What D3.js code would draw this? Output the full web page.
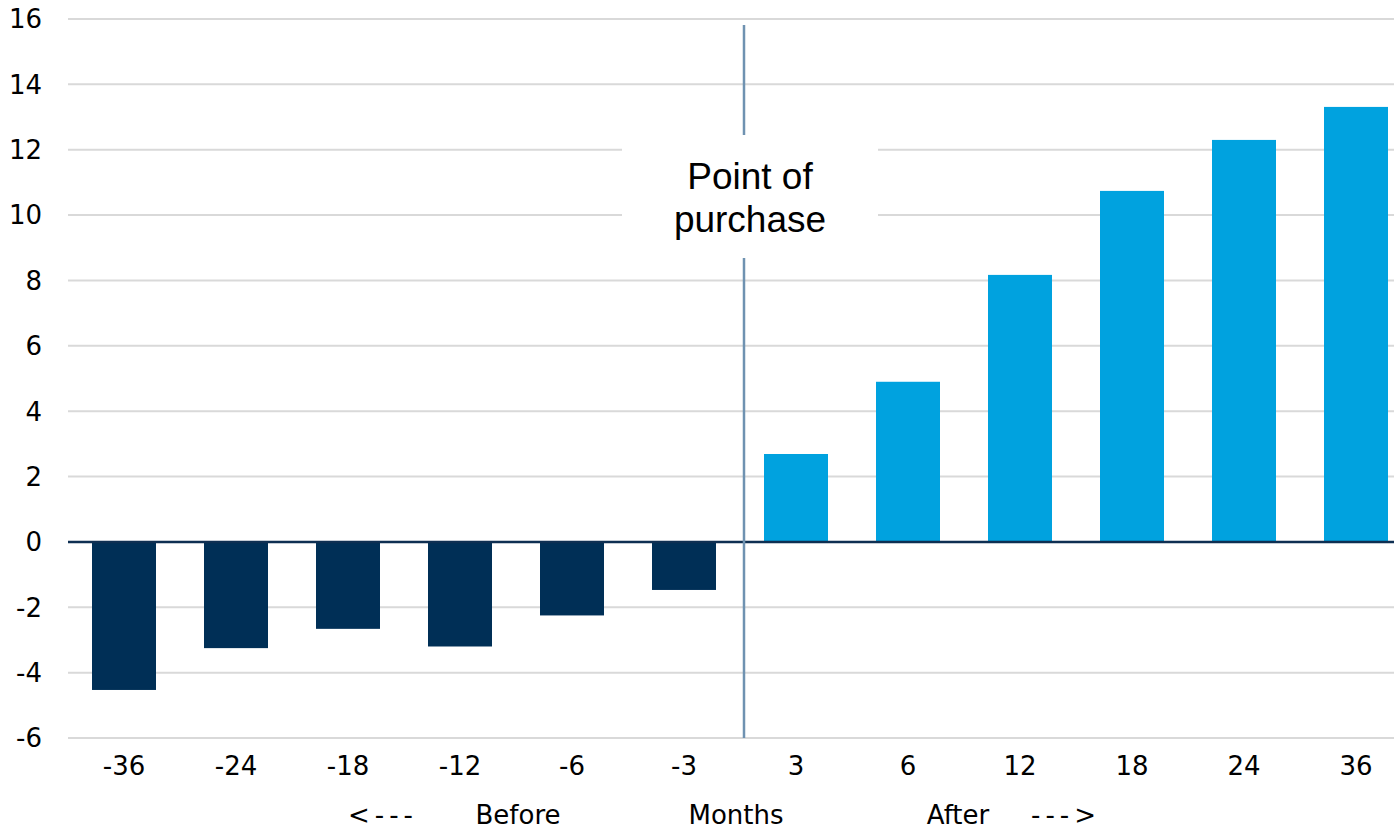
<!DOCTYPE html>
<meta charset="utf-8">

<head>
    <style>
        body {
            margin: 0;
            background: #fff;
        }

        .axis text {
            font-family: "DejaVu Sans", Verdana, sans-serif;
            font-size: 26px;
            fill: #000;
        }

        .grid line {
            stroke: #d9d9d9;
            stroke-width: 2px;
        }

        .note {
            font-family: "Liberation Sans", Arial, sans-serif;
            font-size: 37px;
            fill: #000;
        }

        .bottom-label {
            font-family: "DejaVu Sans", Verdana, sans-serif;
            font-size: 26px;
            fill: #000;
        }

        .arrow {
            letter-spacing: 5px;
        }
    </style>
</head>

<body>

<script src="https://d3js.org/d3.v7.min.js"></script>

<script>

    // months relative to the purchase
    var months = ["-36", "-24", "-18", "-12", "-6", "-3", "3", "6", "12", "18", "24", "36"];
    var values = [-4.53, -3.25, -2.66, -3.2, -2.25, -1.47, 2.69, 4.9, 8.17, 10.74, 12.3, 13.31];
    var yTicks = [-6, -4, -2, 0, 2, 4, 6, 8, 10, 12, 14, 16];
    var bottomLabels = ["<---", "Before", "Months", "After", "--->"];
    var bottomLabelX = [348, 518, 736, 958, 1031];
    var noteLines = ["Point of", "purchase"];

    var width = 1394,
        height = 829;

    var margin = {top: 19, left: 68, bottom: 91};

    var x = d3.scaleBand()
        .domain(months)
        .range([margin.left, margin.left + 12 * 112])
        .paddingInner(0.4286)
        .paddingOuter(0.2143);

    var y = d3.scaleLinear()
        .domain([-6, 16])
        .range([height - margin.bottom, margin.top]);

    var svg = d3.select("body").append("svg")
        .attr("width", width)
        .attr("height", height);

    // horizontal grid
    svg.append("g")
        .attr("class", "grid")
        .selectAll("line")
        .data(yTicks.filter(d => d !== 0))
        .enter().append("line")
        .attr("x1", margin.left)
        .attr("x2", width)
        .attr("y1", d => y(d))
        .attr("y2", d => y(d));

    // y labels
    svg.append("g")
        .attr("class", "axis")
        .selectAll("text")
        .data(yTicks)
        .enter().append("text")
        .attr("x", 42)
        .attr("y", d => y(d))
        .attr("dy", "0.36em")
        .attr("text-anchor", "end")
        .text(d => d);

    // bars
    svg.selectAll(".bar")
        .data(values)
        .enter().append("rect")
        .attr("class", "bar")
        .attr("x", (d, i) => x(months[i]))
        .attr("width", x.bandwidth())
        .attr("y", d => y(Math.max(0, d)))
        .attr("height", d => Math.abs(y(d) - y(0)))
        .attr("fill", d => d < 0 ? "#002f56" : "#00a2df");

    // zero line
    svg.append("line")
        .attr("x1", margin.left)
        .attr("x2", width)
        .attr("y1", y(0))
        .attr("y2", y(0))
        .attr("stroke", "#0e2f52")
        .attr("stroke-width", 2.5);

    // x labels
    svg.append("g")
        .attr("class", "axis")
        .selectAll("text")
        .data(months)
        .enter().append("text")
        .attr("x", d => x(d) + x.bandwidth() / 2)
        .attr("y", y(-6) + 37)
        .attr("text-anchor", "middle")
        .text(d => d);

    // purchase marker, a little right of the gap between -3 and 3
    var markX = (x("-3") + x.bandwidth() + x("3")) / 2 + 4;

    svg.append("line")
        .attr("x1", markX)
        .attr("x2", markX)
        .attr("y1", 25)
        .attr("y2", y(-6))
        .attr("stroke", "#6f92b1")
        .attr("stroke-width", 2.5);

    // white box behind the note
    svg.append("rect")
        .attr("x", 622)
        .attr("y", 135)
        .attr("width", 256)
        .attr("height", 123)
        .attr("fill", "#fff");

    svg.append("g")
        .selectAll("text")
        .data(noteLines)
        .enter().append("text")
        .attr("class", "note")
        .attr("x", 750)
        .attr("y", (d, i) => 189 + i * 43)
        .attr("text-anchor", "middle")
        .text(d => d);

    // before / after labels, arrows are left aligned
    svg.append("g")
        .selectAll("text")
        .data(bottomLabels)
        .enter().append("text")
        .attr("class", (d, i) => (i === 0 || i === 4) ? "bottom-label arrow" : "bottom-label")
        .attr("x", (d, i) => bottomLabelX[i])
        .attr("y", 824)
        .attr("text-anchor", (d, i) => (i === 0 || i === 4) ? "start" : "middle")
        .text(d => d);

</script>

</body>
